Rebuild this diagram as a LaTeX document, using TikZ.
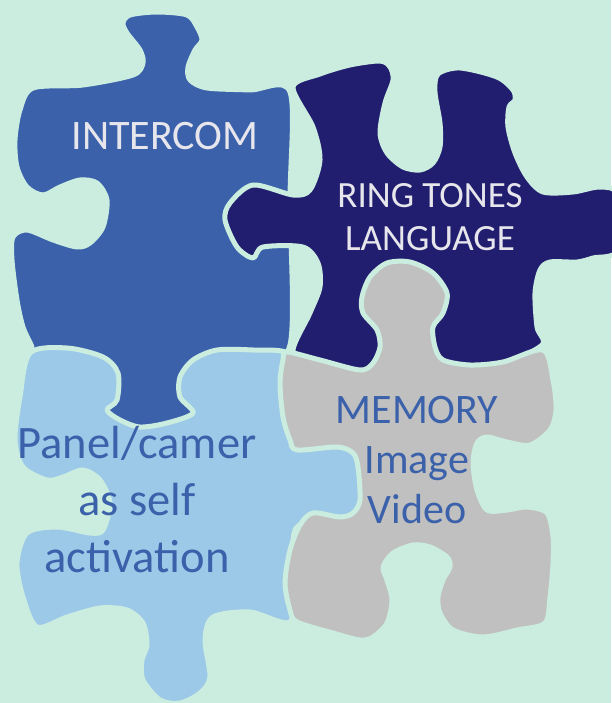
\documentclass[tikz,border=0pt]{standalone}
\usepackage{fontspec}
\setmainfont{Carlito}
\definecolor{mintbg}{RGB}{203,237,223}
\definecolor{interblue}{RGB}{59,97,171}
\definecolor{ringnavy}{RGB}{34,30,111}
\definecolor{panelblue}{RGB}{157,201,232}
\definecolor{memgrey}{RGB}{192,192,192}
\definecolor{textwhite}{RGB}{230,230,236}
\begin{document}
\begin{tikzpicture}[x=1pt,y=-1pt,line join=round,
    piece/.style={draw=mintbg,line width=5pt},
    lighttext/.style={text=textwhite,inner sep=0pt},
    bluetext/.style={text=interblue,inner sep=0pt}]
  \useasboundingbox (0,0) rectangle (611,703);
  \fill[mintbg] (0,0) rectangle (611,703);
  % INTERCOM piece (bottom and right hidden below the others)
  \draw[piece,fill=interblue] plot[smooth cycle,tension=0.5] coordinates {
    (33,88) (83,85) (133,75) (143,63) (140,50) (127,33) (123,23) (130,15) (157,12)
    (187,15) (197,27) (202,40) (195,50) (188,67) (190,80) (207,88) (250,90) (290,92)
    (290,200) (290,345) (250,362) (200,364) (198,420) (170,438) (130,438) (104,420)
    (104,364) (35,360) (32,347) (23,327) (17,300) (12,260) (13,237) (27,230) (53,240)
    (77,247) (90,243) (103,227) (107,200) (97,183) (80,180) (60,187) (43,195) (27,187)
    (17,167) (15,140) (20,110)};
  % RING TONES piece
  \draw[piece,fill=ringnavy] plot[smooth cycle,tension=0.5] coordinates {
    (293,87) (320,74) (350,65) (380,61) (390,67) (393,80) (385,103) (380,133) (387,153)
    (403,167) (420,170) (433,163) (440,147) (440,123) (435,92) (438,74) (460,68) (497,77)
    (513,90) (515,100) (509,107) (508,127) (515,153) (527,177) (543,192) (573,192)
    (600,187) (618,195) (618,250) (593,258) (577,262) (550,262) (540,270) (535,293)
    (537,327) (542,345) (500,364) (440,368) (360,372) (320,362) (293,352) (310,313)
    (320,287) (318,263) (303,247) (263,247) (253,258) (237,247) (225,220) (230,203)
    (253,185) (293,195) (310,190) (320,160) (313,127)};
  % panel piece
  \draw[piece,fill=panelblue] plot[smooth cycle,tension=0.5] coordinates {
    (30,353) (67,348) (103,357) (118,373) (117,400) (107,410) (120,420) (140,427)
    (167,423) (193,413) (180,397) (180,377) (193,360) (217,350) (253,350) (287,353)
    (293,380) (294,440) (330,442) (358,447) (366,470) (366,500) (358,518) (320,520)
    (295,530) (293,580) (290,622) (250,612) (213,617) (205,640) (210,677) (200,693)
    (180,703) (160,700) (143,680) (142,660) (147,645) (143,623) (127,610) (100,608)
    (67,617) (37,627) (23,597) (17,563) (27,533) (57,527) (90,533) (103,530) (110,503)
    (100,480) (83,470) (63,477) (47,480) (23,467) (15,440) (20,397)};
  % MEMORY piece
  \draw[piece,fill=memgrey] plot[smooth cycle,tension=0.5] coordinates {
    (287,352) (320,360) (360,370) (373,363) (380,347) (377,330) (363,313) (362,297)
    (370,277) (387,263) (410,262) (433,273) (447,293) (443,313) (433,327) (435,347)
    (443,360) (470,365) (503,362) (543,350) (553,380) (556,410) (550,430) (530,445)
    (507,442) (487,437) (477,443) (473,463) (477,490) (487,510) (507,510) (527,507)
    (547,513) (553,537) (553,563) (550,597) (545,623) (517,630) (483,637) (453,630)
    (440,613) (438,597) (443,580) (450,567) (447,557) (430,547) (413,545) (393,553)
    (383,567) (387,580) (392,600) (387,623) (373,637) (360,640) (333,633) (297,622)
    (290,610) (285,583) (290,550) (300,525) (313,513) (340,517) (353,513) (360,500)
    (358,467) (353,453) (337,447) (297,450) (290,440) (283,417) (280,383) (283,360)};
  % texts (base = baseline of the last line)
  \node[lighttext,font={\fontsize{42}{50}\selectfont},anchor=base] (intercom) at (165,150) {INTERCOM};
  \node[lighttext,font={\fontsize{37}{43}\selectfont},align=center,anchor=base] (ringtones) at (430,250) {RING TONES\\LANGUAGE};
  \node[bluetext,font={\fontsize{46.5}{57}\selectfont},align=center,anchor=base] (panel) at (137,572) {Panel/camer\\as self\\activation};
  \node[bluetext,font={\fontsize{42}{50}\selectfont},align=center,anchor=base] (memory) at (417,523) {MEMORY\\Image\\Video};
\end{tikzpicture}
\end{document}
